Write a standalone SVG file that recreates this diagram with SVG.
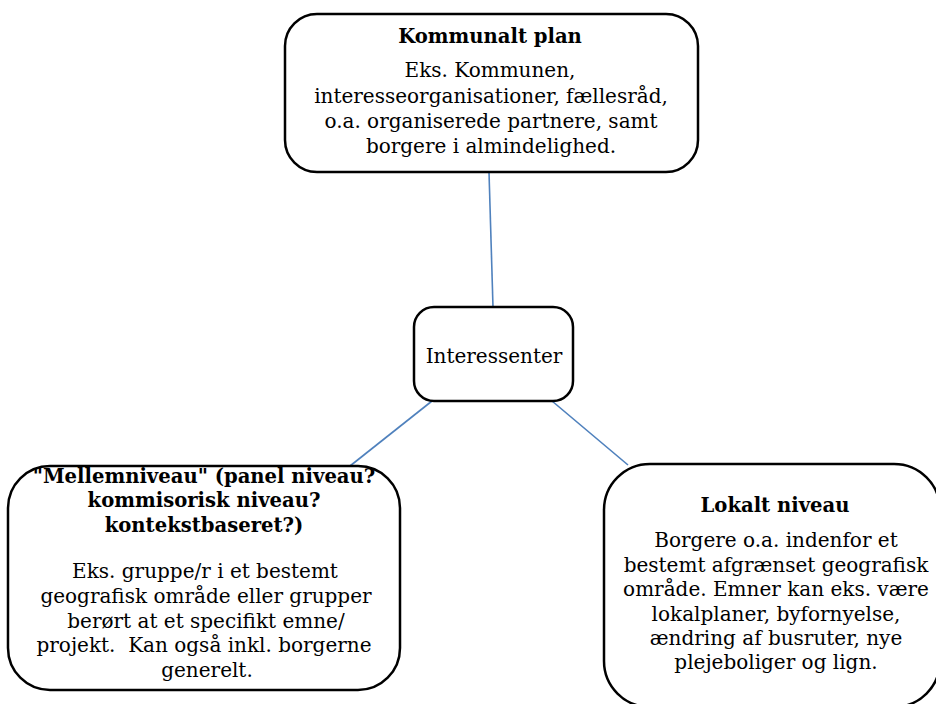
<svg xmlns="http://www.w3.org/2000/svg" width="936" height="704" viewBox="0 0 936 704">
<style>
.box{fill:#fff;stroke:#000;stroke-width:2.5}
.conn{stroke:#4F81BD;stroke-width:1.6;fill:none}
text{font-family:"DejaVu Serif","Liberation Serif",serif;font-size:20px;fill:#000;text-anchor:middle}
.b{font-weight:bold;font-size:19.6px}
</style>
<rect width="936" height="704" fill="#fff"/>
<g id="connectors">
<line class="conn" x1="489" y1="172" x2="493" y2="307"/>
<line class="conn" x1="432" y1="401" x2="350" y2="466"/>
<line class="conn" x1="552" y1="401" x2="628" y2="465"/>
</g>
<g id="kommunalt">
<rect class="box" x="285" y="14" width="413" height="158" rx="32"/>
<text class="b" x="490" y="43">Kommunalt plan</text>
<text x="490" y="77">Eks. Kommunen,</text>
<text x="491" y="103">interesseorganisationer, fællesråd,</text>
<text x="491" y="128">o.a. organiserede partnere, samt</text>
<text x="491" y="153">borgere i almindelighed.</text>
</g>
<g id="interessenter">
<rect class="box" x="414" y="307" width="159" height="94" rx="20"/>
<text x="494" y="363">Interessenter</text>
</g>
<g id="mellemniveau">
<rect class="box" x="8" y="466" width="392" height="224" rx="42"/>
<text class="b" x="204" y="483">"Mellemniveau" (panel niveau?</text>
<text class="b" x="204" y="507">kommisorisk niveau?</text>
<text class="b" x="204" y="532">kontekstbaseret?)</text>
<text x="205" y="578">Eks. gruppe/r i et bestemt</text>
<text x="206" y="603">geografisk område eller grupper</text>
<text x="206" y="628">berørt at et specifikt emne/</text>
<text x="204" y="652" xml:space="preserve">projekt.  Kan også inkl. borgerne</text>
<text x="207" y="677">generelt.</text>
</g>
<g id="lokalt">
<rect class="box" x="604" y="464" width="336" height="243" rx="46"/>
<text class="b" x="775" y="512">Lokalt niveau</text>
<text x="776" y="547">Borgere o.a. indenfor et</text>
<text x="776" y="572">bestemt afgrænset geografisk</text>
<text x="776" y="596">område. Emner kan eks. være</text>
<text x="776" y="621">lokalplaner, byfornyelse,</text>
<text x="776" y="645">ændring af busruter, nye</text>
<text x="776" y="669">plejeboliger og lign.</text>
</g>
</svg>
